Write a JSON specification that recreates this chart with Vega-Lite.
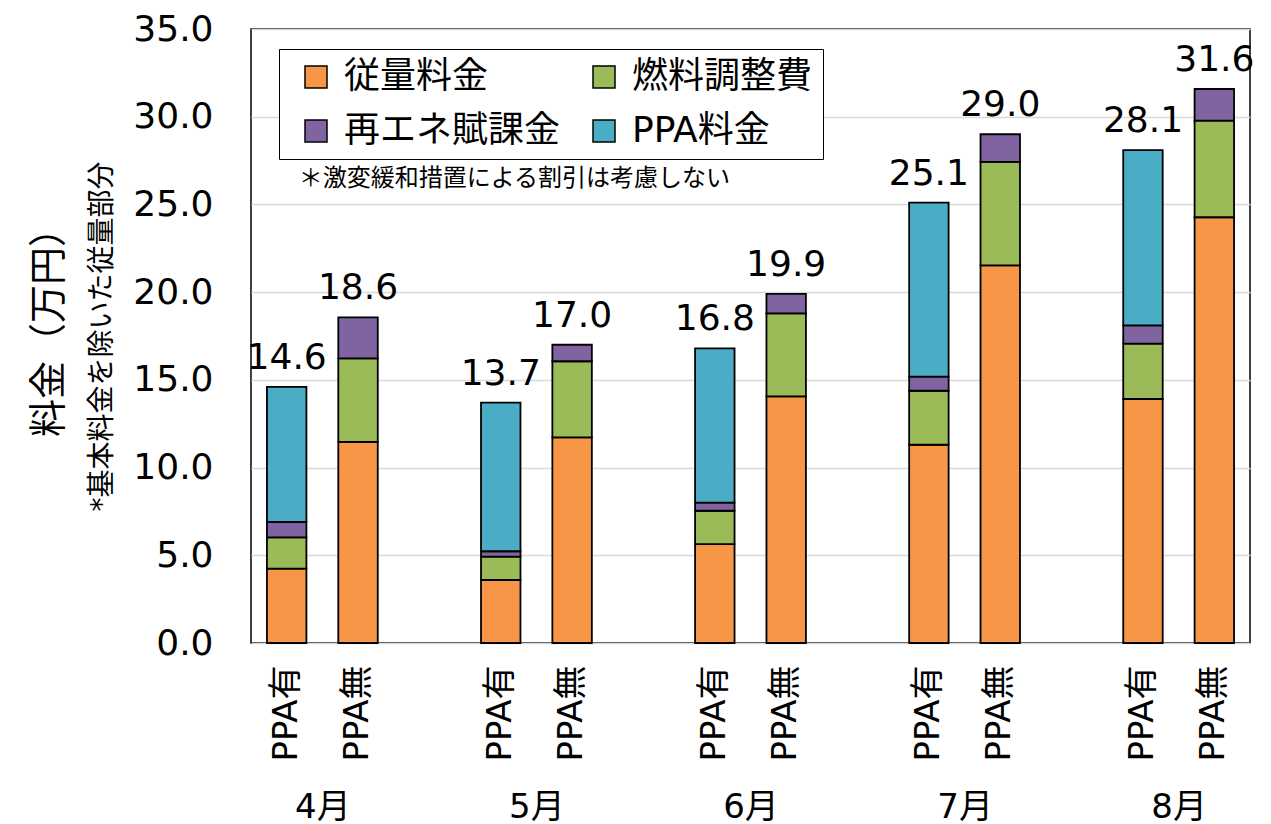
{
  "$schema": "https://vega.github.io/schema/vega-lite/v6.json",
  "width": 999,
  "height": 614,
  "padding": {"left": 30, "top": 11, "right": 5, "bottom": 3},
  "title": {
    "text": "料金（万円）",
    "orient": "left",
    "anchor": "middle",
    "frame": "group",
    "fontSize": 38,
    "fontWeight": "normal",
    "color": "black",
    "offset": 20,
    "dx": 13
  },
  "data": {
    "values": [
      {"month": "4月", "bar": "4月 PPA有", "item": "従量料金", "k": 1, "value": 4.24},
      {"month": "4月", "bar": "4月 PPA有", "item": "燃料調整費", "k": 2, "value": 1.78},
      {"month": "4月", "bar": "4月 PPA有", "item": "再エネ賦課金", "k": 3, "value": 0.88},
      {"month": "4月", "bar": "4月 PPA有", "item": "PPA料金", "k": 4, "value": 7.70},
      {"month": "4月", "bar": "4月 PPA無", "item": "従量料金", "k": 1, "value": 11.46},
      {"month": "4月", "bar": "4月 PPA無", "item": "燃料調整費", "k": 2, "value": 4.77},
      {"month": "4月", "bar": "4月 PPA無", "item": "再エネ賦課金", "k": 3, "value": 2.33},
      {"month": "5月", "bar": "5月 PPA有", "item": "従量料金", "k": 1, "value": 3.59},
      {"month": "5月", "bar": "5月 PPA有", "item": "燃料調整費", "k": 2, "value": 1.33},
      {"month": "5月", "bar": "5月 PPA有", "item": "再エネ賦課金", "k": 3, "value": 0.31},
      {"month": "5月", "bar": "5月 PPA有", "item": "PPA料金", "k": 4, "value": 8.47},
      {"month": "5月", "bar": "5月 PPA無", "item": "従量料金", "k": 1, "value": 11.72},
      {"month": "5月", "bar": "5月 PPA無", "item": "燃料調整費", "k": 2, "value": 4.34},
      {"month": "5月", "bar": "5月 PPA無", "item": "再エネ賦課金", "k": 3, "value": 0.94},
      {"month": "6月", "bar": "6月 PPA有", "item": "従量料金", "k": 1, "value": 5.64},
      {"month": "6月", "bar": "6月 PPA有", "item": "燃料調整費", "k": 2, "value": 1.90},
      {"month": "6月", "bar": "6月 PPA有", "item": "再エネ賦課金", "k": 3, "value": 0.46},
      {"month": "6月", "bar": "6月 PPA有", "item": "PPA料金", "k": 4, "value": 8.80},
      {"month": "6月", "bar": "6月 PPA無", "item": "従量料金", "k": 1, "value": 14.06},
      {"month": "6月", "bar": "6月 PPA無", "item": "燃料調整費", "k": 2, "value": 4.73},
      {"month": "6月", "bar": "6月 PPA無", "item": "再エネ賦課金", "k": 3, "value": 1.11},
      {"month": "7月", "bar": "7月 PPA有", "item": "従量料金", "k": 1, "value": 11.30},
      {"month": "7月", "bar": "7月 PPA有", "item": "燃料調整費", "k": 2, "value": 3.08},
      {"month": "7月", "bar": "7月 PPA有", "item": "再エネ賦課金", "k": 3, "value": 0.80},
      {"month": "7月", "bar": "7月 PPA有", "item": "PPA料金", "k": 4, "value": 9.92},
      {"month": "7月", "bar": "7月 PPA無", "item": "従量料金", "k": 1, "value": 21.53},
      {"month": "7月", "bar": "7月 PPA無", "item": "燃料調整費", "k": 2, "value": 5.89},
      {"month": "7月", "bar": "7月 PPA無", "item": "再エネ賦課金", "k": 3, "value": 1.58},
      {"month": "8月", "bar": "8月 PPA有", "item": "従量料金", "k": 1, "value": 13.91},
      {"month": "8月", "bar": "8月 PPA有", "item": "燃料調整費", "k": 2, "value": 3.16},
      {"month": "8月", "bar": "8月 PPA有", "item": "再エネ賦課金", "k": 3, "value": 1.04},
      {"month": "8月", "bar": "8月 PPA有", "item": "PPA料金", "k": 4, "value": 9.99},
      {"month": "8月", "bar": "8月 PPA無", "item": "従量料金", "k": 1, "value": 24.27},
      {"month": "8月", "bar": "8月 PPA無", "item": "燃料調整費", "k": 2, "value": 5.51},
      {"month": "8月", "bar": "8月 PPA無", "item": "再エネ賦課金", "k": 3, "value": 1.80}
    ]
  },
  "layer": [
    {
      "encoding": {
        "x": {
          "field": "bar",
          "type": "nominal",
          "scale": {
            "domain": ["4月 PPA有", "4月 PPA無", "gap1", "5月 PPA有", "5月 PPA無", "gap2", "6月 PPA有", "6月 PPA無", "gap3", "7月 PPA有", "7月 PPA無", "gap4", "8月 PPA有", "8月 PPA無"],
            "paddingInner": 0.447,
            "paddingOuter": 0.2235
          },
          "axis": {
            "orient": "bottom",
            "title": null,
            "labelExpr": "indexof(datum.label, ' ') >= 0 ? substring(datum.label, 3) : ''",
            "labelAngle": 270,
            "labelAlign": "right",
            "labelBaseline": "middle",
            "labelFontSize": 34,
            "labelPadding": 22,
            "ticks": false,
            "domain": false,
            "grid": false,
            "labelColor": "black"
          }
        }
      },
      "layer": [
        {
          "mark": {"type": "bar", "stroke": "black", "strokeWidth": 1.8},
          "encoding": {
            "y": {
              "field": "value",
              "type": "quantitative",
              "stack": "zero",
              "scale": {"domain": [0, 35], "nice": false},
              "axis": {
                "title": "*基本料金を除いた従量部分",
                "titleFontSize": 28,
                "titleFontWeight": "normal",
                "titleColor": "black",
                "titlePadding": 16,
                "values": [0, 5, 10, 15, 20, 25, 30, 35],
                "format": ".1f",
                "labelFontSize": 36,
                "labelPadding": 38,
                "ticks": false,
                "domain": false,
                "grid": true,
                "gridColor": "#d9d9d9",
                "gridWidth": 1.5,
                "labelColor": "black"
              }
            },
            "order": {"field": "k", "type": "quantitative", "sort": "ascending"},
            "color": {
              "field": "item",
              "type": "nominal",
              "scale": {
                "domain": ["従量料金", "再エネ賦課金", "燃料調整費", "PPA料金"],
                "range": ["#F79646", "#8064A2", "#9BBB59", "#4BACC6"]
              },
              "legend": {
                "title": null,
                "orient": "none",
                "legendX": 28,
                "legendY": 20,
                "columns": 2,
                "symbolType": "square",
                "symbolSize": 484,
                "symbolStrokeColor": "black",
                "symbolStrokeWidth": 1.5,
                "symbolOpacity": 1,
                "symbolOffset": 9,
                "labelFontSize": 36,
                "labelColor": "black",
                "labelOffset": 10,
                "labelLimit": 0,
                "columnPadding": 16,
                "rowPadding": 18,
                "padding": 10,
                "strokeColor": "black",
                "fillColor": "white"
              }
            }
          }
        },
        {
          "transform": [
            {"aggregate": [{"op": "sum", "field": "value", "as": "total"}], "groupby": ["bar"]}
          ],
          "mark": {"type": "text", "fontSize": 36, "baseline": "alphabetic", "align": "center", "dy": -18, "color": "black"},
          "encoding": {
            "y": {"field": "total", "type": "quantitative"},
            "text": {"field": "total", "type": "quantitative", "format": ".1f"}
          }
        },
        {
          "data": {"values": [{"note": "＊激変緩和措置による割引は考慮しない", "bar": "4月 PPA有", "ny": 26.45}]},
          "mark": {"type": "text", "fontSize": 24, "align": "left", "baseline": "middle", "dx": 12, "color": "black"},
          "encoding": {
            "y": {"field": "ny", "type": "quantitative"},
            "text": {"field": "note", "type": "nominal"}
          }
        }
      ]
    },
    {
      "mark": {"type": "point", "opacity": 0},
      "encoding": {
        "x": {
          "field": "month",
          "type": "nominal",
          "scale": {"type": "point", "domain": ["4月", "5月", "6月", "7月", "8月"], "padding": 0.3333},
          "axis": {
            "orient": "bottom",
            "title": null,
            "labelAngle": 0,
            "labelFontSize": 34,
            "labelPadding": 147,
            "labelBaseline": "top",
            "ticks": false,
            "domain": false,
            "grid": false,
            "labelColor": "black"
          }
        },
        "y": {"field": "value", "type": "quantitative", "aggregate": "min"}
      }
    }
  ],
  "resolve": {"scale": {"x": "independent"}},
  "config": {
    "font": "DejaVu Sans, Noto Sans CJK JP",
    "view": {"stroke": "black", "strokeWidth": 1.5},
    "background": "white"
  }
}
